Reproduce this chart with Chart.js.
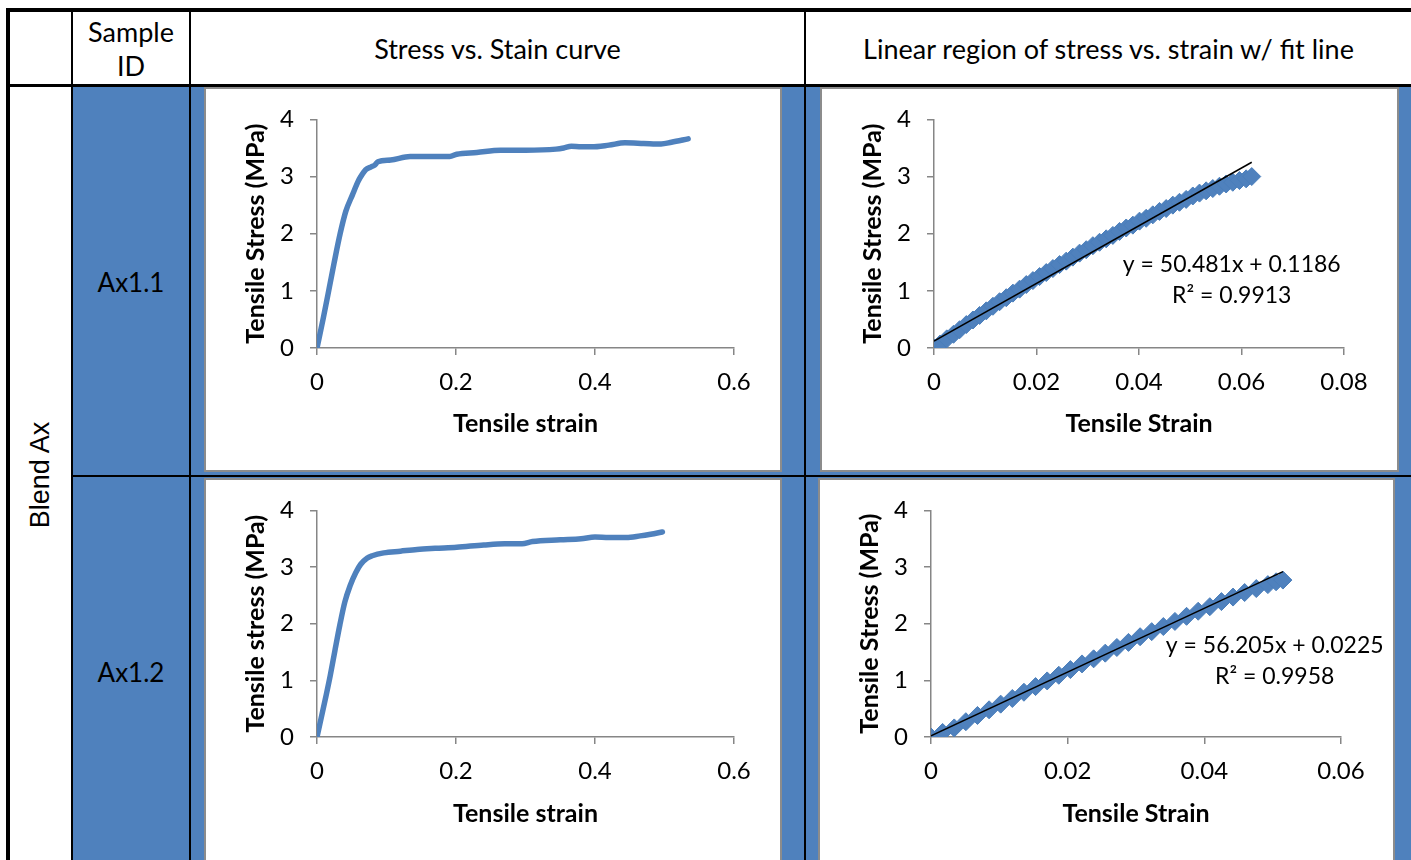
<!DOCTYPE html>
<html>
<head>
<meta charset="utf-8">
<script src="https://cdn.jsdelivr.net/npm/chart.js@4/dist/chart.umd.min.js"></script>
<style>
  body { margin: 0; background: #fff; }
  #page { position: relative; width: 1411px; height: 860px; overflow: hidden; font-family: Lato, sans-serif; color: #000; }
  .ln { position: absolute; background: #000; }
  .blue { position: absolute; background: #4f81bd; }
  .box { position: absolute; background: #fff; border: 2px solid #8c8c8c; box-sizing: border-box; }
  .box canvas { position: absolute; left: 0; top: 0; }
  .txt { position: absolute; text-align: center; white-space: nowrap; font-size: 27px; line-height: 32px; }
</style>
</head>
<body>
<div id="page">
  <div class="blue" style="left:73px;top:87px;width:116px;height:780px"></div>
  <div class="blue" style="left:191px;top:87px;width:1220px;height:780px"></div>

  <div class="box" style="left:204px;top:87px;width:578px;height:385px"><canvas id="chart1" width="574" height="381"></canvas></div>
  <div class="box" style="left:820px;top:87px;width:579px;height:385px"><canvas id="chart2" width="575" height="381"></canvas></div>
  <div class="box" style="left:204px;top:478px;width:578px;height:400px"><canvas id="chart3" width="574" height="381"></canvas></div>
  <div class="box" style="left:818px;top:478px;width:577px;height:400px"><canvas id="chart4" width="573" height="381"></canvas></div>

  <div class="ln" style="left:6px;top:8px;width:1405px;height:4px"></div>
  <div class="ln" style="left:6px;top:8px;width:4px;height:852px"></div>
  <div class="ln" style="left:10px;top:84px;width:1401px;height:3px"></div>
  <div class="ln" style="left:71px;top:12px;width:2px;height:848px"></div>
  <div class="ln" style="left:189px;top:12px;width:2px;height:848px"></div>
  <div class="ln" style="left:804px;top:12px;width:2px;height:848px"></div>
  <div class="ln" style="left:73px;top:475px;width:1338px;height:2px"></div>

  <div class="txt" style="left:73px;top:15px;width:116px;line-height:34px">Sample<br>ID</div>
  <div class="txt" style="left:191px;top:33px;width:613px">Stress vs. Stain curve</div>
  <div class="txt" style="left:806px;top:33px;width:605px">Linear region of stress vs. strain w/ fit line</div>
  <div class="txt" style="left:73px;top:267px;width:116px;font-size:26px;line-height:30px">Ax1.1</div>
  <div class="txt" style="left:73px;top:657px;width:116px;font-size:26px;line-height:30px">Ax1.2</div>
  <div class="txt" style="left:-60px;top:459px;width:200px;font-family:'Liberation Sans',sans-serif;font-size:27px;transform:rotate(-90deg)">Blend Ax</div>
</div>
<script>
const blue = '#4f81bd';

// Ax1.1 full stress-strain curve
const strain1 = [0, 0.009, 0.0176, 0.0248, 0.0333, 0.0414, 0.051, 0.059, 0.063, 0.07, 0.078, 0.083, 0.0876, 0.106, 0.134, 0.16, 0.191, 0.201, 0.23, 0.264, 0.3, 0.344, 0.355, 0.366, 0.38, 0.395, 0.42, 0.443, 0.47, 0.495, 0.51, 0.534];
const stress1 = [0, 0.52, 1.05, 1.5, 2.0, 2.39, 2.68, 2.91, 3.0, 3.12, 3.17, 3.2, 3.26, 3.29, 3.35, 3.35, 3.35, 3.39, 3.42, 3.46, 3.46, 3.48, 3.5, 3.53, 3.52, 3.52, 3.55, 3.59, 3.58, 3.57, 3.6, 3.66];

// Ax1.1 linear region
const strain2 = [0, 0.0012, 0.0025, 0.0038, 0.005, 0.0063, 0.0076, 0.0089, 0.0102, 0.0115, 0.0128, 0.0141, 0.0154, 0.0167, 0.018, 0.0193, 0.0206, 0.0219, 0.0232, 0.0245, 0.0258, 0.0271, 0.0284, 0.0297, 0.031, 0.0323, 0.0336, 0.0349, 0.0362, 0.0375, 0.0388, 0.0401, 0.0414, 0.0427, 0.044, 0.0453, 0.0466, 0.0479, 0.0492, 0.0505, 0.0518, 0.0531, 0.0544, 0.0557, 0.057, 0.0583, 0.0596, 0.0609, 0.062];
const stress2 = [0, 0.07, 0.16, 0.24, 0.32, 0.41, 0.49, 0.57, 0.65, 0.73, 0.81, 0.88, 0.96, 1.03, 1.11, 1.18, 1.25, 1.32, 1.39, 1.46, 1.52, 1.59, 1.66, 1.72, 1.79, 1.85, 1.91, 1.97, 2.04, 2.1, 2.15, 2.22, 2.27, 2.33, 2.39, 2.44, 2.5, 2.55, 2.6, 2.66, 2.71, 2.75, 2.79, 2.83, 2.87, 2.9, 2.93, 2.96, 3.0];
const fitX2 = [0, 0.062];
const fitY2 = [0.12, 3.25];
const fitText2 = ['y = 50.481x + 0.1186', 'R\u00b2 = 0.9913'];

// Ax1.2 full stress-strain curve
const strain3 = [0, 0.0129, 0.019, 0.0257, 0.0329, 0.04, 0.0476, 0.0557, 0.0629, 0.0724, 0.0795, 0.096, 0.12, 0.144, 0.17, 0.201, 0.24, 0.27, 0.295, 0.31, 0.35, 0.38, 0.4, 0.42, 0.445, 0.465, 0.48, 0.497];
const stress3 = [0, 0.72, 1.08, 1.52, 1.98, 2.38, 2.67, 2.9, 3.05, 3.16, 3.2, 3.25, 3.28, 3.31, 3.33, 3.35, 3.39, 3.41, 3.41, 3.45, 3.48, 3.5, 3.53, 3.52, 3.52, 3.55, 3.58, 3.62];

// Ax1.2 linear region
const strain4 = [0, 0.0017, 0.0034, 0.0051, 0.0068, 0.0085, 0.0102, 0.0119, 0.0136, 0.0153, 0.017, 0.0187, 0.0204, 0.0221, 0.0238, 0.0255, 0.0272, 0.0289, 0.0306, 0.0323, 0.034, 0.0357, 0.0374, 0.0391, 0.0408, 0.0425, 0.0442, 0.0459, 0.0476, 0.0493, 0.0505, 0.0515];
const stress4 = [0, 0.08, 0.16, 0.27, 0.38, 0.48, 0.58, 0.68, 0.79, 0.89, 0.99, 1.09, 1.19, 1.29, 1.38, 1.48, 1.58, 1.67, 1.77, 1.86, 1.95, 2.04, 2.13, 2.22, 2.3, 2.39, 2.47, 2.55, 2.62, 2.69, 2.74, 2.77];
const fitX4 = [0, 0.0515];
const fitY4 = [0.0225, 2.92];
const fitText4 = ['y = 56.205x + 0.0225', 'R\u00b2 = 0.9958'];

const yTicks = [0, 1, 2, 3, 4];

function pts(xs, ys) {
    return xs.map((x, i) => ({x: x, y: ys[i]}));
}

// draws the trendline equation text at a data position
const fitLabel = {
    id: 'fitLabel',
    afterDraw(chart, args, opts) {
        if (!opts.lines) return;
        const ctx = chart.ctx;
        const px = chart.scales.x.getPixelForValue(opts.x);
        const py = chart.scales.y.getPixelForValue(opts.y);
        ctx.save();
        ctx.font = '23px Lato';
        ctx.fillStyle = '#000';
        ctx.textAlign = 'center';
        ctx.textBaseline = 'middle';
        opts.lines.forEach((t, i) => ctx.fillText(t, px, py + i * 31));
        ctx.restore();
    }
};

function axes(xMax, xStep, xTitle, yTitle, xHeight) {
    const grid = {drawOnChartArea: false, color: '#868686', lineWidth: 1.5, tickLength: 7};
    const border = {color: '#868686', width: 1.5};
    return {
        x: {
            type: 'linear', min: 0, max: xMax,
            grid: grid, border: border,
            ticks: {stepSize: xStep, color: '#000', font: {family: 'Lato', size: 24}, padding: 13},
            title: {display: true, text: xTitle, color: '#000', font: {family: 'Lato', size: 25, weight: 'bold'}, padding: 0},
            afterFit: (s) => { s.height = xHeight; }
        },
        y: {
            type: 'linear', min: 0, max: 4,
            grid: grid, border: border,
            afterBuildTicks: (s) => { s.ticks = yTicks.map(v => ({value: v})); },
            ticks: {color: '#000', font: {family: 'Lato', size: 24}, padding: 16},
            title: {display: true, text: yTitle, color: '#000', font: {family: 'Lato', size: 25, weight: 'bold'}, padding: 0},
            afterFit: (s) => { s.width = 76; }
        }
    };
}

function curveChart(id, xs, ys, yTitle, pad, xHeight) {
    return new Chart(document.getElementById(id), {
        type: 'scatter',
        data: {
            datasets: [{
                data: pts(xs, ys),
                showLine: true,
                borderColor: blue,
                borderWidth: 5.5,
                cubicInterpolationMode: 'monotone',
                pointRadius: 0,
                borderCapStyle: 'round',
                borderJoinStyle: 'round'
            }]
        },
        options: {
            responsive: false, animation: false, devicePixelRatio: 1,
            layout: {padding: pad},
            plugins: {legend: {display: false}, tooltip: {enabled: false}},
            scales: axes(0.6, 0.2, 'Tensile strain', yTitle, xHeight)
        }
    });
}

function fitChart(id, xs, ys, fx, fy, text, xMax, label, pad, xHeight) {
    return new Chart(document.getElementById(id), {
        type: 'scatter',
        data: {
            datasets: [{
                data: pts(fx, fy),
                showLine: true,
                borderColor: '#000',
                borderWidth: 1.5,
                pointRadius: 0
            }, {
                data: pts(xs, ys),
                pointStyle: 'rectRot',
                pointRadius: 9,
                backgroundColor: blue,
                borderColor: '#4a7ebb',
                borderWidth: 1
            }]
        },
        plugins: [fitLabel],
        options: {
            responsive: false, animation: false, devicePixelRatio: 1,
            layout: {padding: pad},
            plugins: {
                legend: {display: false}, tooltip: {enabled: false},
                fitLabel: {x: label.x, y: label.y, lines: text}
            },
            scales: axes(xMax, 0.02, 'Tensile Strain', 'Tensile Stress (MPa)', xHeight)
        }
    });
}

window.onload = function () {
    curveChart('chart1', strain1, stress1, 'Tensile Stress (MPa)', {left: 35, top: 28, right: 46, bottom: 31}, 91);
    fitChart('chart2', strain2, stress2, fitX2, fitY2, fitText2, 0.08, {x: 0.0581, y: 1.455}, {left: 36, top: 28, right: 53, bottom: 31}, 91);
    curveChart('chart3', strain3, stress3, 'Tensile stress (MPa)', {left: 35, top: 26, right: 46, bottom: 32}, 92);
    fitChart('chart4', strain4, stress4, fitX4, fitY4, fitText4, 0.06, {x: 0.0503, y: 1.61}, {left: 35, top: 26, right: 52, bottom: 32}, 92);
};
</script>
</body>
</html>
